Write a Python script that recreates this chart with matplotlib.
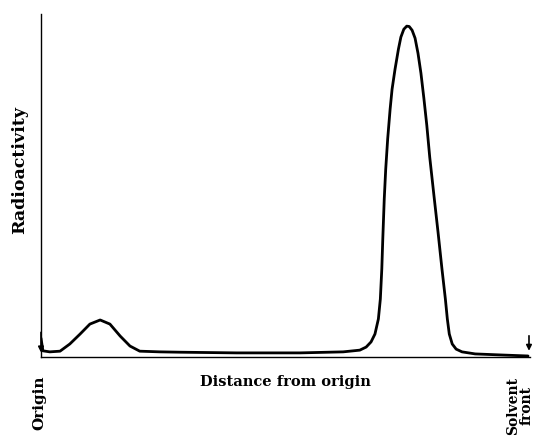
import numpy as np
import matplotlib.pyplot as plt

# distance from origin (0 = origin, 100 = solvent front), radioactivity (arbitrary)
distance = [0.0, 0.4, 1.8, 3.9, 5.9, 8.0, 10.0, 12.1, 14.1, 16.2, 18.2, 20.2,
            24.3, 28.4, 40.0, 53.0, 61.8, 65.2, 66.5, 67.5, 68.3, 69.0, 69.4,
            69.7, 69.9, 70.2, 70.5, 70.9, 71.4, 71.8, 72.4, 73.1, 73.6, 74.2,
            74.8, 75.3, 75.9, 76.5, 77.1, 77.7, 78.3, 78.9, 79.5, 80.4, 81.2,
            82.0, 82.7, 83.1, 83.5, 84.1, 84.9, 86.1, 88.8, 94.0, 99.6]
activity = [5.5, 1.8, 1.5, 1.7, 3.8, 6.7, 9.6, 10.8, 9.6, 6.1, 3.2, 1.7,
            1.5, 1.4, 1.2, 1.2, 1.5, 2.0, 2.9, 4.4, 6.7, 11.1, 16.9,
            25.7, 34.4, 46.1, 54.8, 63.6, 72.3, 78.1, 83.9, 89.8, 93.3, 95.6,
            96.5, 96.4, 95.3, 93.0, 88.6, 82.8, 75.5, 67.6, 58.3, 46.6, 36.4,
            25.7, 16.9, 11.1, 6.7, 3.8, 2.3, 1.5, 0.9, 0.6, 0.3]

plt.rcParams['font.family'] = ['DejaVu Serif']

fig = plt.figure(figsize=(5.35, 4.39), dpi=100)
ax = fig.add_axes([0.0766, 0.1845, 0.914, 0.781])

ax.plot(distance, activity, color='black', lw=2.0, solid_joinstyle='round',
        solid_capstyle='round')
ax.set_xlim(0, 100)
ax.set_ylim(0, 100)
ax.spines['top'].set_visible(False)
ax.spines['right'].set_visible(False)
ax.spines['left'].set_linewidth(1.0)
ax.spines['bottom'].set_linewidth(1.0)
ax.set_xticks([])
ax.set_yticks([])

# arrows marking origin and solvent front
ax.annotate('', xy=(0, 0.5), xytext=(0, 8),
            arrowprops=dict(arrowstyle='-|>', color='black', lw=1.2,
                            mutation_scale=8), annotation_clip=False)
ax.annotate('', xy=(99.8, 1.0), xytext=(99.8, 7),
            arrowprops=dict(arrowstyle='-|>', color='black', lw=1.2,
                            mutation_scale=8), annotation_clip=False)

ax.set_ylabel('Radioactivity', fontsize=12.5, fontweight='bold')
ax.yaxis.set_label_coords(-0.026, 0.548)
ax.set_xlabel('Distance from origin', fontsize=10.5, fontweight='bold', labelpad=12)

fig.text(0.074, 0.145, 'Origin', rotation=90, ha='center', va='top',
         fontsize=11, fontweight='bold')
fig.text(0.972, 0.142, 'Solvent\nfront', rotation=90, ha='center', va='top',
         fontsize=10, fontweight='bold', linespacing=0.9)

fig.savefig('out.png', dpi=100)
